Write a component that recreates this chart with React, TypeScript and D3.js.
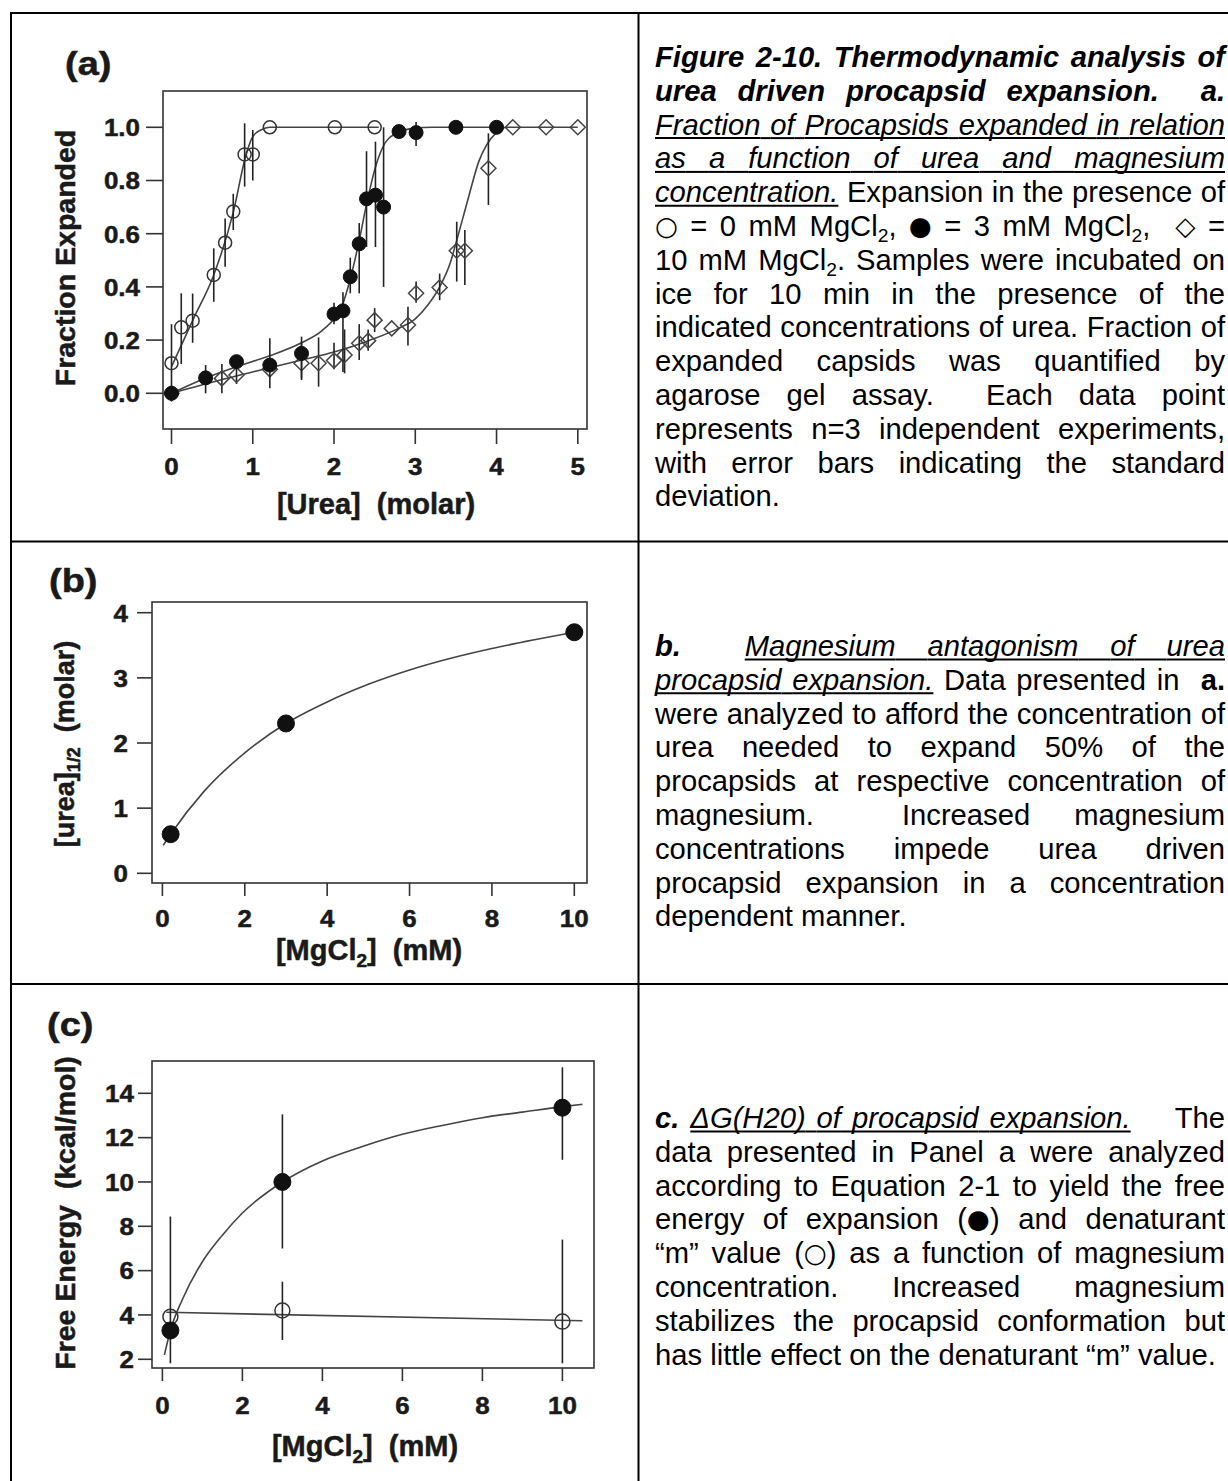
import React from 'react';
import * as d3 from 'd3';

const FONT = '"Liberation Sans", Arial, Helvetica, sans-serif';
const SYM_FONT = '"DejaVu Sans", "Liberation Sans", sans-serif';
const INK = '#1a1a1a';

// ---------- panel (a): fraction expanded vs urea  [x, y, errLow, errHigh]
const A_X_TICKS = [0, 1, 2, 3, 4, 5];
const A_Y_TICKS = [0, 0.2, 0.4, 0.6, 0.8, 1.0];

const A_MG0 = [
  [0.0, 0.113, -0.03, 0.26], [0.12, 0.248, 0.11, 0.376], [0.26, 0.273, 0.19, 0.375],
  [0.52, 0.445, 0.344, 0.545], [0.66, 0.566, 0.476, 0.657], [0.76, 0.683, 0.614, 0.75],
  [0.9, 0.898, 0.777, 1.015], [1.0, 0.898, 0.8, 0.99], [1.21, 1.0], [2.01, 1.0], [2.5, 1.0],
];
const A_MG3 = [
  [0.0, 0.0], [0.42, 0.058, 0.0, 0.106], [0.8, 0.119], [1.21, 0.106, 0.019, 0.207],
  [1.6, 0.15, 0.056, 0.213], [2.0, 0.298, 0.26, 0.34], [2.11, 0.31, 0.08, 0.38],
  [2.2, 0.438, 0.376, 0.51], [2.31, 0.562, 0.376, 0.64], [2.4, 0.731, 0.55, 0.91],
  [2.51, 0.745, 0.55, 0.946], [2.61, 0.7, 0.4, 1.0], [2.8, 0.984, 0.96, 1.01],
  [3.01, 0.98, 0.93, 1.02], [3.5, 1.0], [4.0, 1.0],
];
const A_MG10 = [
  [0.0, 0.0], [0.62, 0.056, 0.0, 0.11], [0.8, 0.069, 0.035, 0.1], [1.21, 0.09],
  [1.6, 0.113, 0.05, 0.19], [1.81, 0.113, 0.025, 0.21], [2.0, 0.123, 0.09, 0.19],
  [2.13, 0.144, 0.075, 0.24], [2.31, 0.188, 0.125, 0.26], [2.42, 0.198, 0.16, 0.24],
  [2.5, 0.275, 0.23, 0.32], [2.71, 0.244], [2.91, 0.257, 0.18, 0.325],
  [3.01, 0.376, 0.34, 0.42], [3.3, 0.398, 0.35, 0.45], [3.51, 0.536, 0.42, 0.645],
  [3.61, 0.536, 0.407, 0.614], [3.9, 0.846, 0.708, 0.977], [4.2, 1.0], [4.61, 1.0], [5.0, 1.0],
];
// fitted curves
const A_FIT0 = [[0.0, 0.1], [0.27, 0.28], [0.52, 0.445], [0.76, 0.68], [0.92, 0.9], [1.0, 0.965], [1.1, 0.99], [1.21, 1.0], [2.55, 1.0]];
const A_FIT3 = [
  [0, 0], [0.4, 0.055], [0.8, 0.1], [1.2, 0.14], [1.6, 0.19], [1.85, 0.235], [2.0, 0.28],
  [2.1, 0.33], [2.2, 0.43], [2.3, 0.56], [2.4, 0.71], [2.5, 0.84], [2.6, 0.925],
  [2.75, 0.975], [3.0, 0.997], [3.2, 1.0], [4.0, 1.0],
];
const A_FIT10 = [
  [0, 0], [0.6, 0.05], [1.2, 0.095], [1.6, 0.125], [2.0, 0.155], [2.4, 0.195], [2.8, 0.245],
  [3.0, 0.28], [3.15, 0.33], [3.3, 0.4], [3.43, 0.49], [3.51, 0.575], [3.6, 0.675],
  [3.68, 0.765], [3.78, 0.87], [3.88, 0.935], [4.0, 0.98], [4.13, 1.0], [5.0, 1.0],
];

// ---------- panel (b): [urea]1/2 vs MgCl2
const B_X_TICKS = [0, 2, 4, 6, 8, 10];
const B_Y_TICKS = [0, 1, 2, 3, 4];
const B_MG = [0.2, 3, 10];
const B_UREA_HALF = [0.6, 2.3, 3.7];
const B_FIT = [[0.02, 0.43], [0.2, 0.6], [1, 1.25], [2, 1.85], [3, 2.3], [4, 2.63], [5, 2.9], [6, 3.12], [7, 3.3], [8, 3.45], [9, 3.58], [10, 3.7]];

// ---------- panel (c): free energy vs MgCl2
const C_X_TICKS = [0, 2, 4, 6, 8, 10];
const C_Y_TICKS = [2, 4, 6, 8, 10, 12, 14];
const C_MG = [0.2, 3, 10];
const C_DG = [3.3, 10, 13.35];
const C_DG_LO = [1.82, 7.0, 11.0];
const C_DG_HI = [8.44, 13.05, 15.17];
const C_M = [3.92, 4.2, 3.7];
const C_M_LO = [null, 2.87, 1.82];
const C_M_HI = [null, 5.5, 7.4];
const C_FIT_DG = [[0.05, 2.2], [0.2, 3.3], [0.5, 4.7], [1, 6.4], [1.5, 7.6], [2, 8.6], [3, 10], [4, 10.95], [5, 11.6], [6, 12.15], [7, 12.55], [8, 12.9], [9, 13.15], [10, 13.4], [10.5, 13.5]];
const C_FIT_M = [[0.1, 4.12], [10.5, 3.74]];

// ---------- captions: [style, text]; bi bold-italic, iu italic-underline, b bold, s subscript, y symbol, r regular
const CAPTION_A = [
  [['bi', 'Figure 2-10. Thermodynamic analysis of']],
  [['bi', 'urea driven procapsid expansion.  a.']],
  [['iu', 'Fraction of Procapsids expanded in relation']],
  [['iu', 'as a function of urea and magnesium']],
  [['iu', 'concentration.'], ['r', ' Expansion in the presence of']],
  [['y', '\u25CB'], ['r', ' = 0 mM MgCl'], ['s', '2'], ['r', ', '], ['y', '\u25CF'], ['r', ' = 3 mM MgCl'], ['s', '2'], ['r', ',  '], ['y', '\u25C7'], ['r', ' =']],
  [['r', '10 mM MgCl'], ['s', '2'], ['r', '. Samples were incubated on']],
  [['r', 'ice for 10 min in the presence of the']],
  [['r', 'indicated concentrations of urea. Fraction of']],
  [['r', 'expanded capsids was quantified by']],
  [['r', 'agarose gel assay.  Each data point']],
  [['r', 'represents n=3 independent experiments,']],
  [['r', 'with error bars indicating the standard']],
  [['r', 'deviation.']],
];
const CAPTION_B = [
  [['bi', 'b.'], ['r', '  '], ['iu', 'Magnesium antagonism of urea']],
  [['iu', 'procapsid expansion.'], ['r', ' Data presented in  '], ['b', 'a.']],
  [['r', 'were analyzed to afford the concentration of']],
  [['r', 'urea needed to expand 50% of the']],
  [['r', 'procapsids at respective concentration of']],
  [['r', 'magnesium.  Increased magnesium']],
  [['r', 'concentrations impede urea driven']],
  [['r', 'procapsid expansion in a concentration']],
  [['r', 'dependent manner.']],
];
const CAPTION_C = [
  [['bi', 'c.'], ['r', ' '], ['iu', '\u0394G(H20) of procapsid expansion.'], ['r', '    The']],
  [['r', 'data presented in Panel a were analyzed']],
  [['r', 'according to Equation 2-1 to yield the free']],
  [['r', 'energy of expansion ('], ['y', '\u25CF'], ['r', ') and denaturant']],
  [['r', '\u201Cm\u201D value ('], ['y', '\u25CB'], ['r', ') as a function of magnesium']],
  [['r', 'concentration.    Increased    magnesium']],
  [['r', 'stabilizes the procapsid conformation but']],
  [['r', 'has little effect on the denaturant \u201Cm\u201D value.']],
];

const ctx = document.createElement('canvas').getContext('2d');

function fontOf(st, size) {
  const bold = st === 'b' || st === 'bi';
  const italic = st === 'bi' || st === 'iu';
  const fs = st === 's' ? size * 0.66 : st === 'y' ? size * 0.9 : size;
  const fam = st === 'y' ? SYM_FONT : FONT;
  return {
    bold, italic, fs, fam, under: st === 'iu', dy: st === 's' ? size * 0.2 : st === 'y' ? -size * 0.05 : 0,
    css: `${italic ? 'italic ' : ''}${bold ? 'bold ' : ''}${fs}px ${fam}`,
  };
}

function Caption({ lines, x0, width, y0, step, size }) {
  const out = [];
  lines.forEach((runs, li) => {
    const y = y0 + li * step;
    const pieces = [];
    runs.forEach(([st, txt]) => {
      txt.split(/( +)/).filter((s) => s.length).forEach((s) => {
        const f = fontOf(st, size);
        ctx.font = f.css;
        pieces.push({ s, f, space: s.trim() === '', w: ctx.measureText(s).width });
      });
    });
    const total = d3.sum(pieces, (p) => p.w);
    const nSp = d3.sum(pieces, (p) => (p.space ? p.s.length : 0));
    const justify = li < lines.length - 1;
    const extra = justify && nSp ? (width - total) / nSp : 0;
    let x = x0;
    pieces.forEach((p, pi) => {
      const w = p.w + (p.space ? extra * p.s.length : 0);
      if (!p.space) {
        out.push(
          <text key={`${li}-${pi}`} x={x} y={y + p.f.dy} fontFamily={p.f.fam} fontSize={p.f.fs}
            fontWeight={p.f.bold ? 'bold' : 'normal'} fontStyle={p.f.italic ? 'italic' : 'normal'} fill="#000">
            {p.s}
          </text>
        );
      }
      if (p.f.under) {
        out.push(<line key={`u${li}-${pi}`} x1={x} x2={x + w} y1={y + size * 0.12} y2={y + size * 0.12} stroke="#000" strokeWidth={2} />);
      }
      x += w;
    });
  });
  return <g>{out}</g>;
}

function SText({ x, y, size, sx = 1, rotate = 0, anchor = 'middle', children }) {
  return (
    <text transform={`translate(${x},${y}) rotate(${rotate}) scale(${sx},1)`} fontFamily={FONT}
      fontSize={size} fontWeight="bold" textAnchor={anchor} fill={INK} stroke={INK} strokeWidth={0.5}
      style={{ whiteSpace: 'pre' }}>
      {children}
    </text>
  );
}

function Axes({ x, y, box, xTicks, yTicks, yFmt, yTickLen, xTickLen, yLabelX, xLabelY }) {
  const ts = 24.5;
  const tsx = 1.06;
  return (
    <g>
      <g stroke="#333" strokeWidth={1.6}>
        <rect x={box.l} y={box.t} width={box.r - box.l} height={box.b - box.t} fill="none" />
        {yTicks.map((t) => <line key={`yl${t}`} x1={box.l - yTickLen} x2={box.l} y1={y(t)} y2={y(t)} />)}
        {xTicks.map((t) => <line key={`xl${t}`} x1={x(t)} x2={x(t)} y1={box.b} y2={box.b + xTickLen} />)}
      </g>
      {yTicks.map((t) => (
        <SText key={`y${t}`} x={yLabelX} y={y(t) + ts * 0.36} size={ts} sx={tsx} anchor="end">{yFmt(t)}</SText>
      ))}
      {xTicks.map((t) => (
        <SText key={`x${t}`} x={x(t)} y={xLabelY} size={ts} sx={tsx}>{String(t)}</SText>
      ))}
    </g>
  );
}

function Marker({ kind, cx, cy, r }) {
  if (kind === 'open') return <circle cx={cx} cy={cy} r={r} fill="none" stroke="#333" strokeWidth={1.5} />;
  if (kind === 'filled') return <circle cx={cx} cy={cy} r={r} fill="#111" stroke="#111" strokeWidth={1} />;
  return <path d={`M${cx},${cy - r}L${cx + r},${cy}L${cx},${cy + r}L${cx - r},${cy}Z`} fill="none" stroke="#444" strokeWidth={1.5} />;
}

function Series({ pts, x, y, kind, r }) {
  return (
    <g>
      {pts.filter((p) => p[2] != null).map((p, i) => (
        <line key={`e${i}`} x1={x(p[0])} x2={x(p[0])} y1={y(p[2])} y2={y(p[3])} stroke="#222" strokeWidth={1.6} />
      ))}
      {pts.map((p, i) => <Marker key={i} kind={kind} cx={x(p[0])} cy={y(p[1])} r={r} />)}
    </g>
  );
}

function Fit({ pts, x, y, curve = d3.curveMonotoneX }) {
  const line = d3.line().x((d) => x(d[0])).y((d) => y(d[1])).curve(curve);
  return <path d={line(pts)} fill="none" stroke="#444" strokeWidth={1.6} />;
}

function PanelA() {
  const box = { l: 163, r: 587, t: 91, b: 429 };
  const x = d3.scaleLinear().domain([0, 5]).range([171.5, 577.8]);
  const y = d3.scaleLinear().domain([0, 1]).range([393.3, 127.3]);
  return (
    <g>
      <SText x={65} y={75} size={33} sx={1.15} anchor="start">(a)</SText>
      <clipPath id="clipA"><rect x={box.l} y={box.t} width={box.r - box.l} height={box.b - box.t} /></clipPath>
      <g clipPath="url(#clipA)">
        <Fit pts={A_FIT0} x={x} y={y} />
        <Fit pts={A_FIT3} x={x} y={y} />
        <Fit pts={A_FIT10} x={x} y={y} />
        <Series pts={A_MG10} x={x} y={y} kind="diamond" r={7.5} />
        <Series pts={A_MG0} x={x} y={y} kind="open" r={6.5} />
        <Series pts={A_MG3} x={x} y={y} kind="filled" r={7} />
      </g>
      <Axes x={x} y={y} box={box} xTicks={A_X_TICKS} yTicks={A_Y_TICKS} yFmt={d3.format('.1f')}
        yTickLen={17} xTickLen={15} yLabelX={140} xLabelY={475} />
      <SText x={376} y={514} size={29}>[Urea]  (molar)</SText>
      <SText x={75} y={258} size={28.5} rotate={-90}>Fraction Expanded</SText>
    </g>
  );
}

function PanelB() {
  const box = { l: 152, r: 587, t: 602, b: 883 };
  const x = d3.scaleLinear().domain([0, 10]).range([162.4, 574.3]);
  const y = d3.scaleLinear().domain([0, 4]).range([873.3, 612.7]);
  const pts = B_MG.map((m, i) => [m, B_UREA_HALF[i]]);
  return (
    <g>
      <SText x={49} y={592} size={33} sx={1.15} anchor="start">(b)</SText>
      <clipPath id="clipB"><rect x={box.l} y={box.t} width={box.r - box.l} height={box.b - box.t} /></clipPath>
      <g clipPath="url(#clipB)">
        <Fit pts={B_FIT} x={x} y={y} />
        <Series pts={pts} x={x} y={y} kind="filled" r={8.5} />
      </g>
      <Axes x={x} y={y} box={box} xTicks={B_X_TICKS} yTicks={B_Y_TICKS} yFmt={d3.format('d')}
        yTickLen={15} xTickLen={13} yLabelX={128} xLabelY={926.5} />
      <SText x={369} y={960} size={29}>[MgCl<tspan fontSize={19} dy={7}>2</tspan><tspan dy={-7}>]  (mM)</tspan></SText>
      <SText x={74} y={744} size={27} rotate={-90}>[urea]<tspan fontSize={18} dy={6}>1/2</tspan><tspan dy={-6}>  (molar)</tspan></SText>
    </g>
  );
}

function PanelC() {
  const box = { l: 152, r: 594, t: 1061, b: 1368 };
  const x = d3.scaleLinear().domain([0, 10]).range([162.4, 562.4]);
  const y = d3.scaleLinear().domain([2, 14]).range([1359.3, 1093.3]);
  const dg = C_MG.map((m, i) => [m, C_DG[i], C_DG_LO[i], C_DG_HI[i]]);
  const mv = C_MG.map((m, i) => [m, C_M[i], C_M_LO[i], C_M_HI[i]]);
  return (
    <g>
      <SText x={47} y={1036} size={33} sx={1.15} anchor="start">(c)</SText>
      <clipPath id="clipC"><rect x={box.l} y={box.t} width={box.r - box.l} height={box.b - box.t} /></clipPath>
      <g clipPath="url(#clipC)">
        <Fit pts={C_FIT_DG} x={x} y={y} />
        <Fit pts={C_FIT_M} x={x} y={y} curve={d3.curveLinear} />
        <Series pts={mv} x={x} y={y} kind="open" r={7.5} />
        <Series pts={dg} x={x} y={y} kind="filled" r={8.5} />
      </g>
      <Axes x={x} y={y} box={box} xTicks={C_X_TICKS} yTicks={C_Y_TICKS} yFmt={d3.format('d')}
        yTickLen={14} xTickLen={13} yLabelX={134} xLabelY={1413.5} />
      <SText x={365} y={1456} size={29}>[MgCl<tspan fontSize={19} dy={7}>2</tspan><tspan dy={-7}>]  (mM)</tspan></SText>
      <SText x={75} y={1213} size={28.5} rotate={-90}>Free Energy  (kcal/mol)</SText>
    </g>
  );
}

export default function App() {
  const W = 1228;
  const H = 1481;
  const capX = 655;
  const capW = 570;
  const cs = 29.2;
  const step = 33.8;
  return (
    <svg width={W} height={H} style={{ position: 'absolute', left: 0, top: 0 }}>
      <rect width={W} height={H} fill="#fff" />
      <g stroke="#000" strokeWidth={2}>
        <line x1={10} x2={W} y1={13} y2={13} />
        <line x1={11} x2={11} y1={12} y2={H} />
        <line x1={638.5} x2={638.5} y1={12} y2={H} />
        <line x1={10} x2={W} y1={541.5} y2={541.5} />
        <line x1={10} x2={W} y1={984} y2={984} />
      </g>
      <PanelA />
      <PanelB />
      <PanelC />
      <Caption lines={CAPTION_A} x0={capX} width={capW} y0={67} step={step} size={cs} />
      <Caption lines={CAPTION_B} x0={capX} width={capW} y0={656} step={step} size={cs} />
      <Caption lines={CAPTION_C} x0={capX} width={capW} y0={1128} step={step} size={cs} />
    </svg>
  );
}
